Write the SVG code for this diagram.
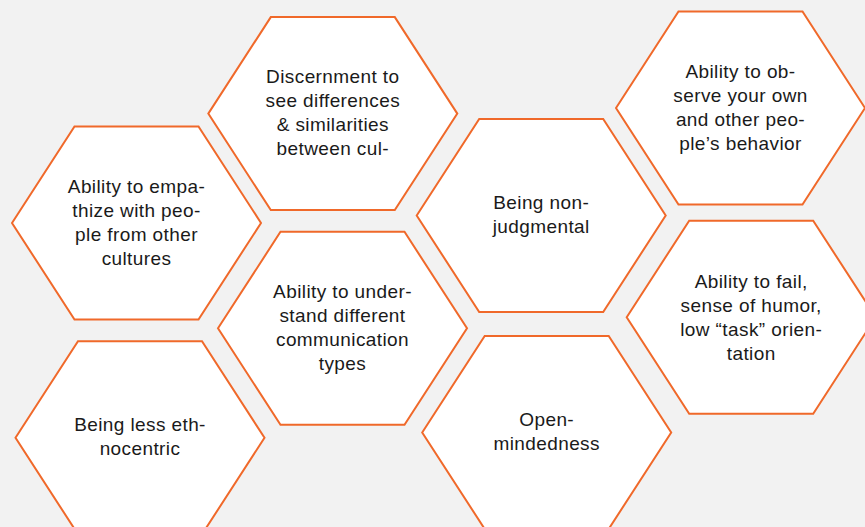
<svg xmlns="http://www.w3.org/2000/svg" xmlns:xlink="http://www.w3.org/1999/xlink" width="865" height="527" viewBox="0 0 865 527">
<style>
.hex{fill:#ffffff;stroke:#F0692A;stroke-width:2;stroke-linejoin:miter}
.lbl{font-family:"Liberation Sans",Arial,sans-serif;font-size:19px;letter-spacing:0.4px;fill:#1a1a1a;text-anchor:middle}
</style>
<defs>
<polygon id="hexshape" points="-124.5,0 -62,-96.5 62,-96.5 124.5,0 62,96.5 -62,96.5"/>
</defs>
<rect x="0" y="0" width="865" height="527" fill="#F2F2F2"/>
<g id="connectors"></g>
<g id="node-discernment">
<use xlink:href="#hexshape" href="#hexshape" class="hex" transform="translate(332.8,113.6)"/>
<text class="lbl"><tspan x="332.8" y="83.3">Discernment to</tspan><tspan x="332.8" y="107.3">see differences</tspan><tspan x="332.8" y="131.3">&amp; similarities</tspan><tspan x="332.8" y="155.3">between cul-</tspan></text>
</g>
<g id="node-empathize">
<use xlink:href="#hexshape" href="#hexshape" class="hex" transform="translate(136.5,223)"/>
<text class="lbl"><tspan x="136.5" y="192.6">Ability to empa-</tspan><tspan x="136.5" y="216.6">thize with peo-</tspan><tspan x="136.5" y="240.6">ple from other</tspan><tspan x="136.5" y="264.6">cultures</tspan></text>
</g>
<g id="node-nonjudgmental">
<use xlink:href="#hexshape" href="#hexshape" class="hex" transform="translate(541.2,215.5)"/>
<text class="lbl"><tspan x="541.2" y="209">Being non-</tspan><tspan x="541.2" y="233">judgmental</tspan></text>
</g>
<g id="node-observe">
<use xlink:href="#hexshape" href="#hexshape" class="hex" transform="translate(740.5,108)"/>
<text class="lbl"><tspan x="740.5" y="78">Ability to ob-</tspan><tspan x="740.5" y="102">serve your own</tspan><tspan x="740.5" y="126">and other peo-</tspan><tspan x="740.5" y="150">ple’s behavior</tspan></text>
</g>
<g id="node-fail">
<use xlink:href="#hexshape" href="#hexshape" class="hex" transform="translate(751.2,317.2)"/>
<text class="lbl"><tspan x="751.2" y="287.7">Ability to fail,</tspan><tspan x="751.2" y="311.7">sense of humor,</tspan><tspan x="751.2" y="335.7">low “task” orien-</tspan><tspan x="751.2" y="359.7">tation</tspan></text>
</g>
<g id="node-ethnocentric">
<use xlink:href="#hexshape" href="#hexshape" class="hex" transform="translate(140,437.8)"/>
<text class="lbl"><tspan x="140" y="431">Being less eth-</tspan><tspan x="140" y="455">nocentric</tspan></text>
</g>
<g id="node-communication">
<use xlink:href="#hexshape" href="#hexshape" class="hex" transform="translate(342.5,328.3)"/>
<text class="lbl"><tspan x="342.5" y="298.3">Ability to under-</tspan><tspan x="342.5" y="322.3">stand different</tspan><tspan x="342.5" y="346.3">communication</tspan><tspan x="342.5" y="370.3">types</tspan></text>
</g>
<g id="node-openminded">
<use xlink:href="#hexshape" href="#hexshape" class="hex" transform="translate(546.7,432.5)"/>
<text class="lbl"><tspan x="546.7" y="426">Open-</tspan><tspan x="546.7" y="450">mindedness</tspan></text>
</g>
</svg>
